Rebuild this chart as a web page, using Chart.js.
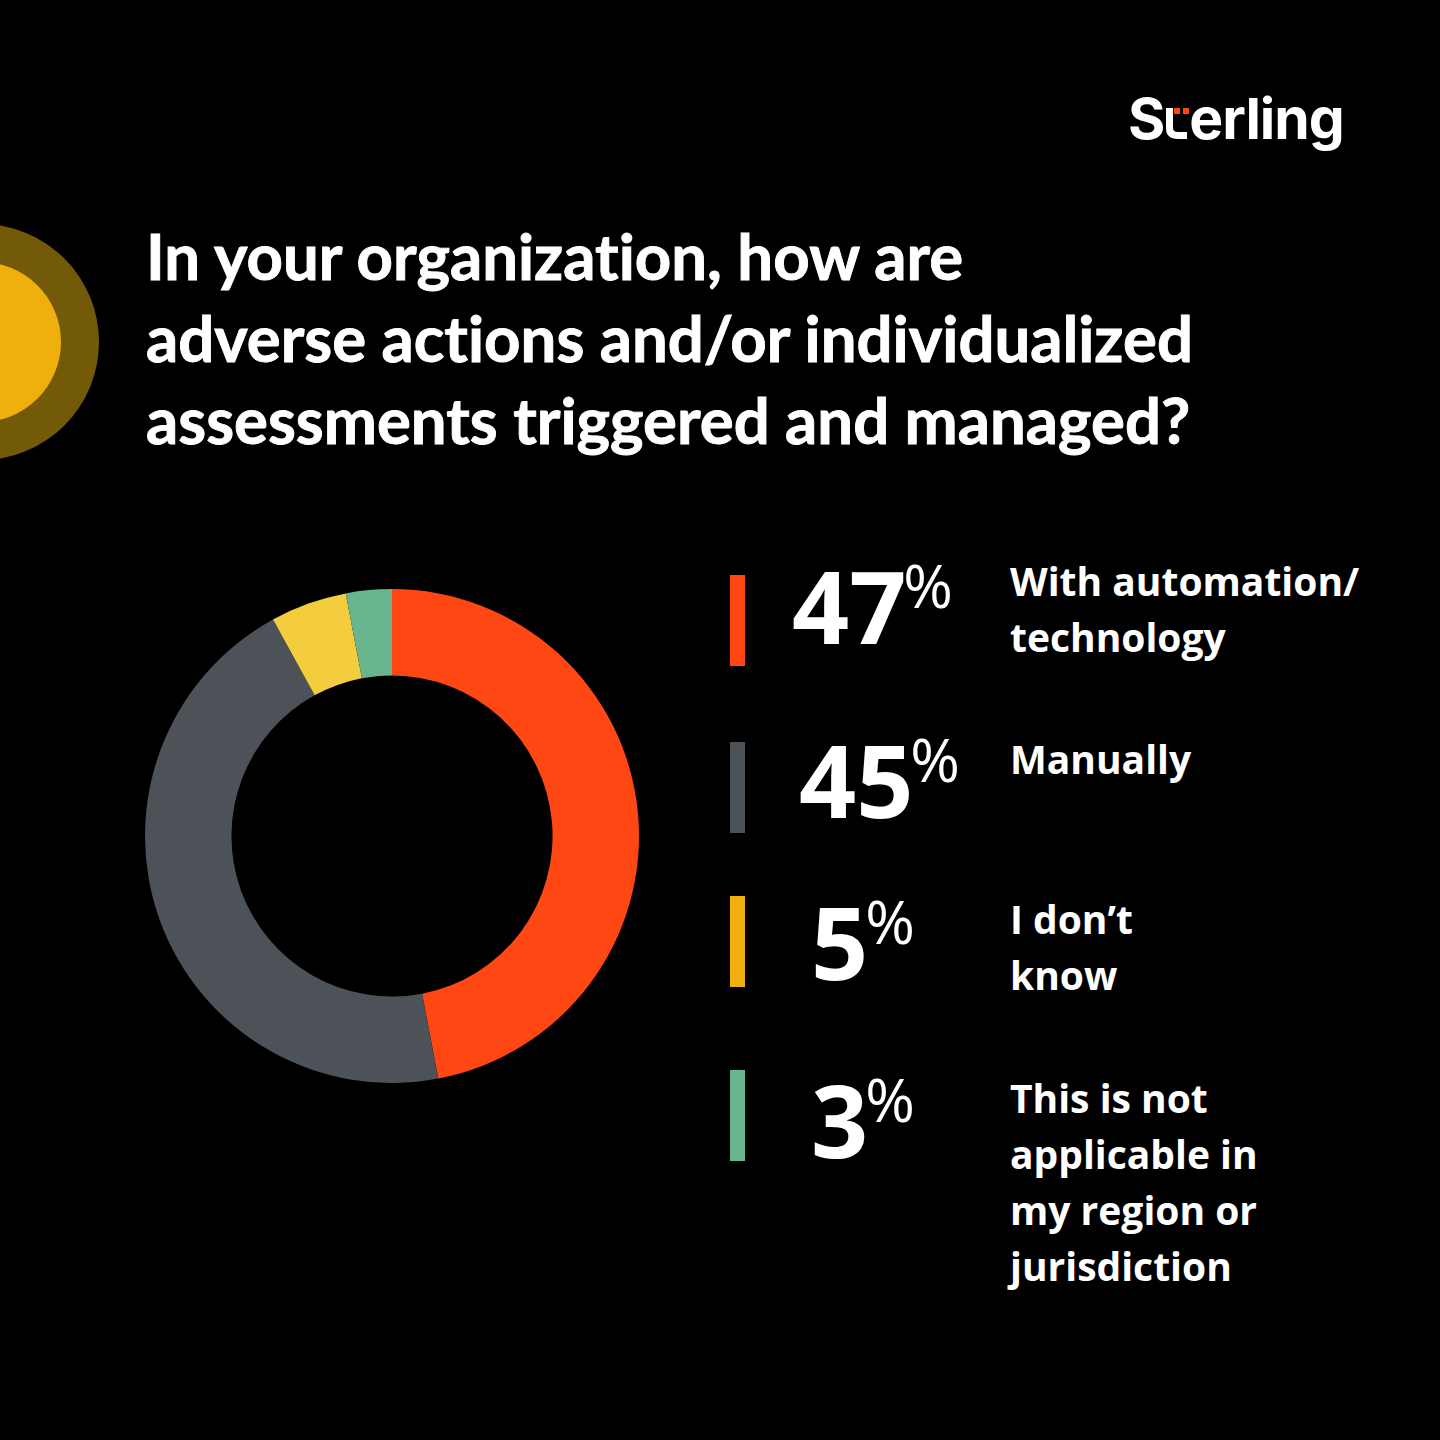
<!DOCTYPE html>
<html>
<head>
<meta charset="utf-8">
<script src="https://cdn.jsdelivr.net/npm/chart.js@4"></script>
<style>
  html, body { margin: 0; padding: 0; background: #000; }
  #page { position: relative; width: 1440px; height: 1440px; overflow: hidden; background: #000; color: #fff; }
  .deco { position: absolute; border-radius: 50%; }
  #title { position: absolute; left: 146px; top: 215px; font-family: Lato, sans-serif; font-weight: 700;
           font-size: 63.5px; line-height: 82px; white-space: nowrap; font-variant-ligatures: none;
           -webkit-text-stroke: 0.9px #fff; }
  #logo { position: absolute; left: 1128px; top: 84px; font-family: Inter, sans-serif; font-weight: 700;
          font-size: 57px; letter-spacing: -1px; white-space: nowrap; line-height: 70px; }
  #logo svg { vertical-align: baseline; margin: 0 0 0 2px; }
  #donutBox { position: absolute; left: 145px; top: 589px; width: 494px; height: 494px; }
  .bar { position: absolute; left: 730px; width: 15px; height: 91px; }
  .num { position: absolute; font-family: "Open Sans", sans-serif; font-weight: 700; font-size: 100px;
         line-height: 100px; white-space: nowrap; }
  .num .pct { font-size: 60px; font-weight: 400; vertical-align: 36px; margin-left: -3px; }
  .lab { position: absolute; left: 1010px; font-family: "Open Sans", sans-serif; font-weight: 700;
         font-size: 39px; line-height: 56px; white-space: nowrap; }
</style>
</head>
<body>
<div id="page">
  <div class="deco" style="left:-137px; top:224px; width:236px; height:236px; background:#735a09;"></div>
  <div class="deco" style="left:-99px; top:262px; width:160px; height:160px; background:#efb00d;"></div>

  <div id="logo">S<svg width="23" height="31" viewBox="0 0 23 31"><path d="M0 0 H7 V20 Q7 24 12 24 H21 V31 H12 Q0 31 0 20 Z" fill="#fff"/><rect x="8" y="0" width="6" height="6" fill="#ff4714"/><rect x="17" y="0" width="6" height="6" fill="#ff4714"/></svg>erling</div>

  <div id="title">In your organization, how are<br>adverse actions and/or individualized<br>assessments triggered and managed?</div>

  <div id="donutBox"><canvas id="donut"></canvas></div>
  <div id="legend"></div>
</div>

<script>
// survey answers
const categories = ["With automation/\ntechnology", "Manually", "I don’t\nknow", "This is not\napplicable in\nmy region or\njurisdiction"];
const shares = [47, 45, 5, 3];
const sliceColors = ["#ff4714", "#4d5158", "#f3cd3e", "#68b58e"];
const barColors = ["#ff4714", "#4d5158", "#efb00d", "#68b58e"];

// legend layout
const rowTop = [575, 742, 896, 1070];
const numLeft = [792, 799, 811, 811];
const numTop = [535, 709, 871, 1049];
const labelTop = [553, 731, 891, 1070];

const legend = document.getElementById("legend");
categories.forEach((cat, i) => {
    const bar = document.createElement("div");
    bar.className = "bar";
    bar.style.top = rowTop[i] + "px";
    bar.style.background = barColors[i];
    legend.appendChild(bar);

    const num = document.createElement("div");
    num.className = "num";
    num.style.left = numLeft[i] + "px";
    num.style.top = numTop[i] + "px";
    num.innerHTML = shares[i] + '<span class="pct">%</span>';
    legend.appendChild(num);

    const lab = document.createElement("div");
    lab.className = "lab";
    lab.style.top = labelTop[i] + "px";
    lab.innerText = cat;
    legend.appendChild(lab);
});

const ctx = document.getElementById("donut").getContext("2d");
new Chart(ctx, {
    type: "doughnut",
    data: {
        labels: categories,
        datasets: [{
            data: shares,
            backgroundColor: sliceColors,
            borderWidth: 0
        }]
    },
    options: {
        responsive: true,
        maintainAspectRatio: false,
        animation: false,
        cutout: "65%",
        layout: { padding: 0 },
        plugins: { legend: { display: false }, tooltip: { enabled: false } }
    }
});
</script>
</body>
</html>
